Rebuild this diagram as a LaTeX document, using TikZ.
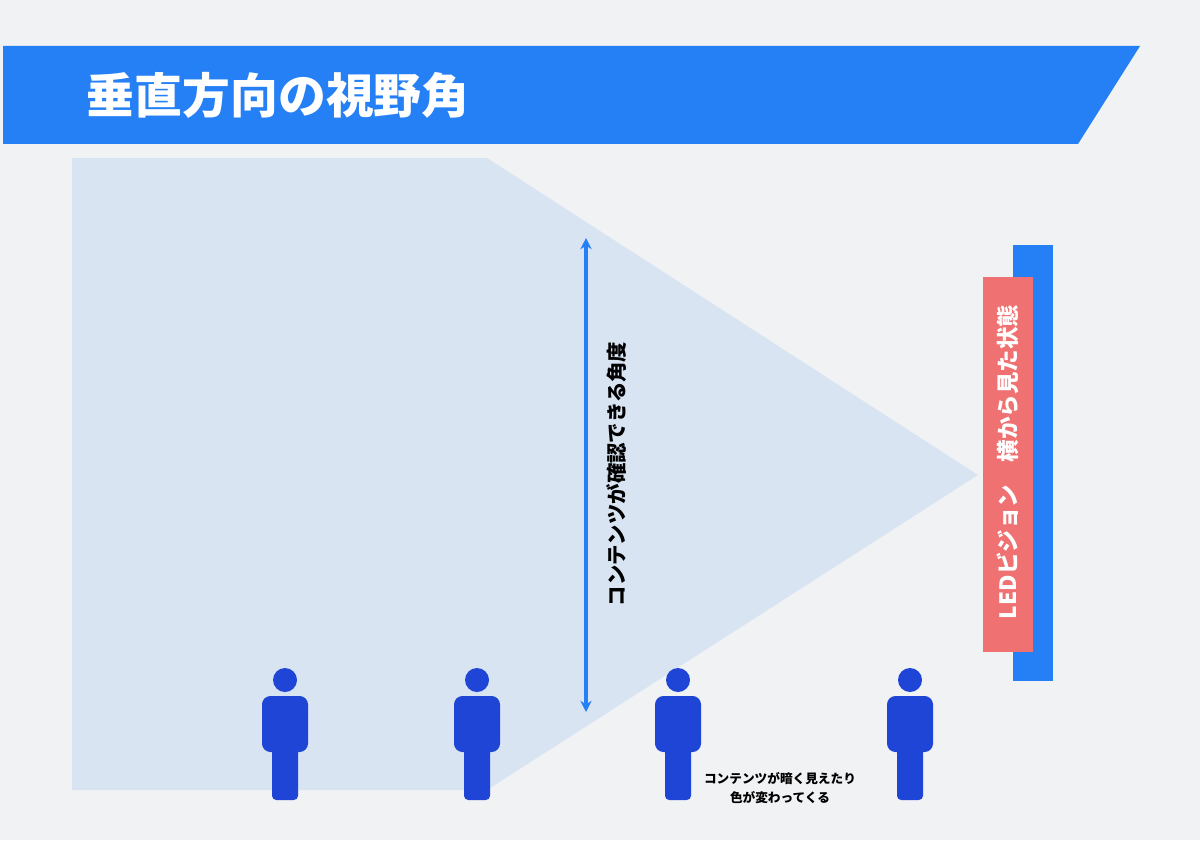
\documentclass[tikz,border=0pt]{standalone}
\usepackage{fontspec}
\setmainfont{Noto Sans CJK JP}
\usetikzlibrary{arrows.meta,positioning}
\definecolor{bg}{HTML}{F1F2F4}
\definecolor{banner}{HTML}{2680F5}
\definecolor{zone}{HTML}{D9E4F3}
\definecolor{ledred}{HTML}{F07171}
\definecolor{person}{HTML}{1F45D6}
\tikzset{
  arrow/.style = {{Stealth[length=8pt,width=8pt]}-{Stealth[length=8pt,width=8pt]},draw=banner,line width=2.2pt},
  mantext/.style = {font=\bfseries\fontsize{14.5}{17}\selectfont},
}
\newcommand{\man}[1]{%
  \fill[person] (#1,680) circle (12);
  \fill[person,rounded corners=6pt] (#1-23,696) rectangle (#1+23,752);
  \fill[person,rounded corners=3pt] (#1-13,740) rectangle (#1+13,800);
}
\begin{document}
\begin{tikzpicture}[x=0.025cm,y=-0.025cm]
  \fill[bg] (0,0) rectangle (1200,840);
  %Banner
  \fill[banner] (3,46) -- (1140,46) -- (1078,144) -- (3,144) -- cycle;
  \node (title) [anchor=west,text=white,font=\bfseries\fontsize{34}{40}\selectfont] at (82,95) {垂直方向の視野角};
  %Viewing zone
  \fill[zone] (72,158) -- (487,158) -- (978,475) -- (487,790) -- (72,790) -- cycle;
  \coordinate (top) at (586,238);
  \coordinate (bottom) at (586,712);
  \draw [arrow] (top) -- (bottom);
  \node (angle) [rotate=90,mantext] at (617,474) {コンテンツが確認できる角度};
  %LED
  \fill[banner] (1013,245) rectangle (1053,681);
  \fill[ledred] (983,277) rectangle (1033,652);
  \node (led) [rotate=90,text=white,font=\bfseries\fontsize{16}{18}\selectfont] at (1008,462) {LEDビジョン　横から見た状態};
  %People
  \man{285} \man{477} \man{678} \man{910}
  \node (dark) [align=center,font=\bfseries\fontsize{9}{13}\selectfont] at (780,788) {コンテンツが暗く見えたり\\色が変わってくる};
\end{tikzpicture}
\end{document}
